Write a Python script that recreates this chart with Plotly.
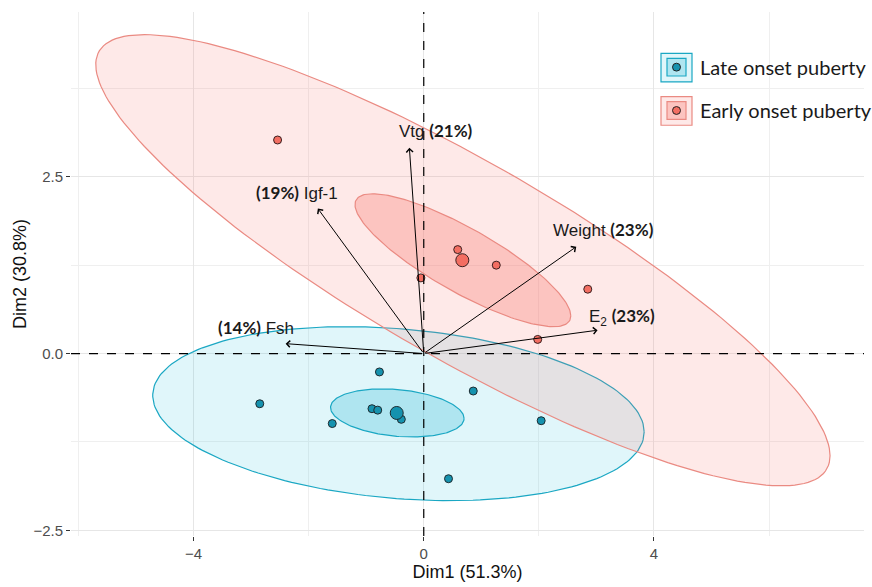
import numpy as np
import plotly.graph_objects as go

# ---------------- data ----------------
groups = ["Late onset puberty", "Early onset puberty"]

late_x = [-0.77, -2.85, -0.90, -0.80, -0.39, -1.59, 0.86, 2.04, 0.43]
late_y = [-0.26, -0.71, -0.78, -0.80, -0.93, -0.99, -0.53, -0.95, -1.77]
early_x = [-2.54, 0.59, 1.26, -0.05, 2.85, 1.98]
early_y = [3.02, 1.47, 1.25, 1.07, 0.91, 0.20]

centroid_x = [-0.47, 0.67]
centroid_y = [-0.84, 1.32]

# confidence ellipses: half-width, half-height (data units) and correlation
ell_outer_center = [(-0.44, -0.85), (0.68, 1.32)]
ell_outer_w = [4.27, 6.38]
ell_outer_h = [1.23, 3.19]
ell_outer_r = [-0.21, -0.867]
ell_inner_center = [(-0.46, -0.84), (0.68, 1.32)]
ell_inner_w = [1.16, 1.875]
ell_inner_h = [0.34, 0.94]
ell_inner_r = [-0.226, -0.837]

# variable vectors
var_names = ["Vtg", "Igf-1", "Weight", "E<sub>2</sub>", "Fsh"]
var_pct = ["21%", "19%", "23%", "23%", "14%"]
var_x = [-0.25, -1.84, 2.65, 3.02, -2.40]
var_y = [2.91, 2.05, 1.51, 0.33, 0.14]
pct_first = [False, True, False, False, True]
label_x = [0.22, -2.20, 3.12, 3.45, -2.92]
label_y = [3.15, 2.28, 1.75, 0.52, 0.37]

# ---------------- style ----------------
line_cols = ["#1AA7C3", "#EA8A82"]
fill_outer = ["rgba(0,185,215,0.12)", "rgba(248,118,109,0.16)"]
fill_inner = ["rgba(0,170,205,0.22)", "rgba(248,118,109,0.32)"]
pt_cols = ["#1592AE", "#F36E62"]

X_RANGE = [-6.13, 7.65]
Y_RANGE = [-2.58, 4.83]


def ellipse(center, w, h, r, n=200):
    cov = np.array([[w * w, r * w * h], [r * w * h, h * h]])
    L = np.linalg.cholesky(cov)
    t = np.linspace(0, 2 * np.pi, n)
    pts = L @ np.vstack([np.cos(t), np.sin(t)])
    return center[0] + pts[0], center[1] + pts[1]


fig = go.Figure()

for i in range(2):
    ex, ey = ellipse(ell_outer_center[i], ell_outer_w[i], ell_outer_h[i], ell_outer_r[i])
    fig.add_trace(go.Scatter(x=ex, y=ey, mode="lines", fill="toself",
                             fillcolor=fill_outer[i],
                             line=dict(color=line_cols[i], width=1.2),
                             hoverinfo="skip", showlegend=False))
for i in range(2):
    ex, ey = ellipse(ell_inner_center[i], ell_inner_w[i], ell_inner_h[i], ell_inner_r[i])
    fig.add_trace(go.Scatter(x=ex, y=ey, mode="lines", fill="toself",
                             fillcolor=fill_inner[i],
                             line=dict(color=line_cols[i], width=1.2),
                             hoverinfo="skip", showlegend=False))

fig.add_trace(go.Scatter(x=late_x, y=late_y, mode="markers", showlegend=False,
                         marker=dict(size=8, color=pt_cols[0],
                                     line=dict(color="#1d2b30", width=1))))
fig.add_trace(go.Scatter(x=early_x, y=early_y, mode="markers", showlegend=False,
                         marker=dict(size=8, color=pt_cols[1],
                                     line=dict(color="#3a2020", width=1))))
fig.add_trace(go.Scatter(x=centroid_x, y=centroid_y, mode="markers", showlegend=False,
                         marker=dict(size=13, color=pt_cols,
                                     line=dict(color=["#1d2b30", "#3a2020"], width=1))))

# dashed reference lines
fig.add_shape(type="line", xref="x", yref="paper", x0=0, x1=0, y0=0, y1=1,
              line=dict(color="black", width=1.2, dash="dash"), layer="above")
fig.add_shape(type="line", xref="paper", yref="y", x0=0, x1=1, y0=0, y1=0,
              line=dict(color="black", width=1.2, dash="dash"), layer="above")

# arrows + labels
for i in range(len(var_names)):
    fig.add_annotation(x=var_x[i], y=var_y[i], ax=0, ay=0, xref="x", yref="y",
                       axref="x", ayref="y", text="", showarrow=True,
                       arrowhead=4, arrowsize=1.3, arrowwidth=1, arrowcolor="black",
                       standoff=0, startstandoff=0)
    pct = "<span style='font-family:Lato'><b>(%s)</b></span>" % var_pct[i]
    name = var_names[i]
    txt = (pct + " " + name) if pct_first[i] else (name + " " + pct)
    fig.add_annotation(x=label_x[i], y=label_y[i], xref="x", yref="y", text=txt,
                       showarrow=False,
                       font=dict(family="Liberation Sans, Arial", size=17, color="#1a1a1a"))

# manual legend (inside the panel, top right)
leg_y = [68, 112]
for i in range(2):
    cy = leg_y[i]
    fig.add_shape(type="rect", xref="paper", yref="paper",
                  x0=(661 - 71) / 793, x1=(692 - 71) / 793,
                  y0=1 - (cy + 15 - 12) / 532, y1=1 - (cy - 14 - 12) / 532,
                  line=dict(color=line_cols[i], width=1.2), fillcolor=fill_outer[i],
                  layer="above")
    fig.add_shape(type="rect", xref="paper", yref="paper",
                  x0=(667 - 71) / 793, x1=(686 - 71) / 793,
                  y0=1 - (cy + 9 - 12) / 532, y1=1 - (cy - 9 - 12) / 532,
                  line=dict(color=line_cols[i], width=1.2), fillcolor=fill_inner[i],
                  layer="above")
    fig.add_shape(type="circle", xref="paper", yref="paper",
                  x0=(672.5 - 71) / 793, x1=(680.5 - 71) / 793,
                  y0=1 - (cy + 4 - 12) / 532, y1=1 - (cy - 4 - 12) / 532,
                  line=dict(color="#222", width=1), fillcolor=pt_cols[i],
                  layer="above")
    fig.add_annotation(xref="paper", yref="paper", x=(698 - 71) / 793,
                       y=1 - (cy - 12) / 532, xanchor="left", yanchor="middle",
                       text=groups[i], showarrow=False,
                       font=dict(family="Lato", size=20, color="#1a1a1a"))

axis_font = dict(family="Liberation Sans, Arial", size=15, color="#4D4D4D")
title_font = dict(family="Liberation Sans, Arial", size=18, color="#111")
fig.update_layout(
    width=872, height=587,
    margin=dict(l=71, r=8, t=12, b=43),
    plot_bgcolor="white", paper_bgcolor="white",
    showlegend=False,
    xaxis=dict(range=X_RANGE, tick0=0, dtick=4, showgrid=True, gridcolor="#E6E6E6",
               gridwidth=1, zeroline=False, ticks="outside", ticklen=4,
               tickcolor="#333333", tickfont=axis_font,
               minor=dict(dtick=2, tick0=0, showgrid=True, gridcolor="#EFEFEF",
                          gridwidth=0.8, ticks=""),
               title=dict(text="Dim1 (51.3%)", standoff=4, font=title_font)),
    yaxis=dict(range=Y_RANGE, tick0=0, dtick=2.5, tickformat=".1f", showgrid=True,
               gridcolor="#E6E6E6", gridwidth=1, zeroline=False, ticks="outside",
               ticklen=4, tickcolor="#333333", tickfont=axis_font,
               minor=dict(dtick=1.25, tick0=0, showgrid=True, gridcolor="#EFEFEF",
                          gridwidth=0.8, ticks=""),
               title=dict(text="Dim2 (30.8%)", standoff=2, font=title_font)),
)

fig.write_html("out.html")
